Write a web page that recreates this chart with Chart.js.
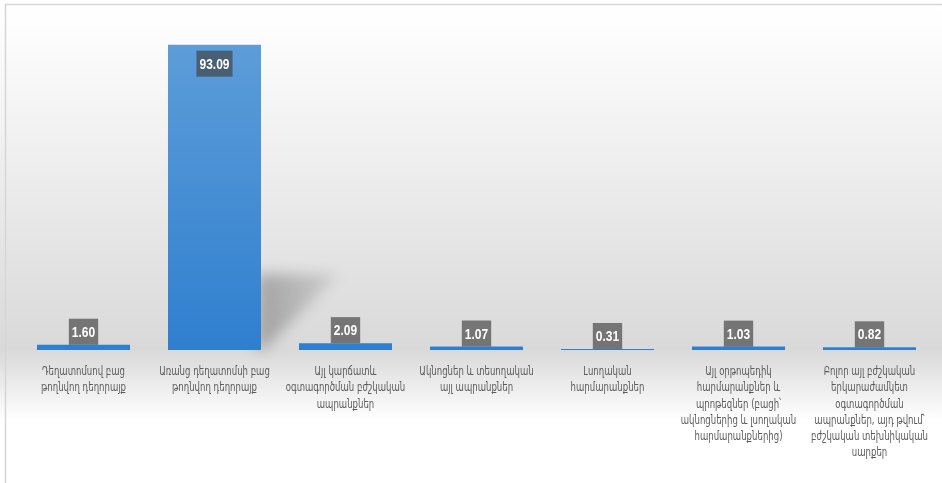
<!DOCTYPE html>
<html>
<head>
<meta charset="utf-8">
<script src="https://cdn.jsdelivr.net/npm/chart.js@4/dist/chart.umd.min.js"></script>
<style>
  html, body { margin: 0; padding: 0; background: #fff; }
  #wrap { position: relative; width: 942px; height: 483px; }
</style>
</head>
<body>
<div id="wrap"><canvas id="barChart"></canvas></div>
<script>
// categories (wrapped into lines) and values
var categories = [
	["Դեղատոմսով բաց", "թողնվող դեղորայք"],
	["Առանց դեղատոմսի բաց", "թողնվող դեղորայք"],
	["Այլ կարճատև", "օգտագործման բժշկական", "ապրանքներ"],
	["Ակնոցներ և տեսողական", "այլ ապրանքներ"],
	["Լսողական", "հարմարանքներ"],
	["Այլ օրթոպեդիկ", "հարմարանքներ և", "պրոթեզներ (բացի՝", "ակնոցներից և լսողական", "հարմարանքներից)"],
	["Բոլոր այլ բժշկական", "երկարաժամկետ", "օգտագործման", "ապրանքներ, այդ թվում՝", "բժշկական տեխնիկական", "սարքեր"]
];
var shares = [1.60, 93.09, 2.09, 1.07, 0.31, 1.03, 0.82];

var valueFont = 'bold 15px "Liberation Sans", Arial, sans-serif';
var labelFont = '12.5px "DejaVu Sans Condensed", "DejaVu Sans", sans-serif';

// draw text squeezed horizontally (narrow face look)
function narrowText(c, txt, x, y, sx) {
	c.save();
	c.translate(x, y);
	c.scale(sx, 1);
	c.fillText(txt, 0, 0);
	c.restore();
}

// soft grey backdrop + thin frame
var backdrop = {
	id: "backdrop",
	beforeDraw: function (chart) {
		var c = chart.ctx, w = chart.width, h = chart.height;
		var g = c.createLinearGradient(0, 0, 0, h);
		g.addColorStop(0, "#ffffff");
		g.addColorStop(0.06, "#fdfdfd");
		g.addColorStop(0.725, "#d9d9d9");
		g.addColorStop(0.87, "#ffffff");
		g.addColorStop(1, "#ffffff");
		c.save();
		c.fillStyle = g;
		c.fillRect(0, 0, w, h);
		c.strokeStyle = "#d6d6d6";
		c.lineWidth = 1.5;
		c.strokeRect(5.5, 4.5, w + 10, h + 10);
		c.restore();
	}
};

// cast shadow behind the tallest bar
var barShadow = {
	id: "barShadow",
	beforeDatasetsDraw: function (chart) {
		var idx = shares.indexOf(Math.max.apply(null, shares));
		var bar = chart.getDatasetMeta(0).data[idx];
		if (!bar) return;
		var right = bar.x + bar.width / 2;
		var base = bar.base;
		var c = chart.ctx;
		c.save();
		c.filter = "blur(7px)";
		var g = c.createLinearGradient(right, 0, right + 80, 0);
		g.addColorStop(0, "rgba(0,0,0,0.26)");
		g.addColorStop(1, "rgba(0,0,0,0.08)");
		c.fillStyle = g;
		c.beginPath();
		c.moveTo(right - 4, base - 76);
		c.lineTo(right + 78, base - 76);
		c.lineTo(right + 2, base);
		c.lineTo(right - 4, base);
		c.closePath();
		c.fill();
		c.restore();
	}
};

// value tags on each bar
var valueTags = {
	id: "valueTags",
	afterDatasetsDraw: function (chart) {
		var c = chart.ctx;
		var meta = chart.getDatasetMeta(0);
		var sx = 0.8;
		c.save();
		c.font = valueFont;
		c.textAlign = "center";
		c.textBaseline = "middle";
		meta.data.forEach(function (bar, i) {
			var txt = shares[i].toFixed(2);
			var bw = c.measureText(txt).width * sx + 6;
			var bh = 26;
			var top;
			if (bar.base - bar.y > bh + 12) {
				top = bar.y + 6;
			} else {
				top = bar.y - bh;
			}
			c.fillStyle = "rgba(64,64,64,0.66)";
			c.fillRect(bar.x - bw / 2, top, bw, bh);
			c.fillStyle = "#ffffff";
			narrowText(c, txt, bar.x, top + bh / 2 + 1, sx);
		});
		c.restore();
	}
};

// category names under the axis, centred on each tick
var categoryLabels = {
	id: "categoryLabels",
	afterDraw: function (chart) {
		var xs = chart.scales.x;
		var c = chart.ctx;
		var lh = 16.2;
		c.save();
		c.font = labelFont;
		c.fillStyle = "#5a5a5a";
		c.textAlign = "center";
		c.textBaseline = "middle";
		categories.forEach(function (lines, i) {
			var x = xs.getPixelForTick(i);
			lines.forEach(function (ln, j) {
				narrowText(c, ln, x, xs.top + 22 + j * lh, 0.76);
			});
		});
		c.restore();
	}
};

var ctx = document.getElementById("barChart");

var chart = new Chart(ctx, {
	type: "bar",
	data: {
		labels: categories,
		datasets: [{
			data: shares,
			backgroundColor: function (context) {
				var area = context.chart.chartArea;
				if (!area) return "#4a90d4";
				var g = context.chart.ctx.createLinearGradient(0, area.top, 0, area.bottom);
				g.addColorStop(0, "#609fd9");
				g.addColorStop(1, "#2f7fcf");
				return g;
			},
			borderWidth: 0,
			categoryPercentage: 0.71,
			barPercentage: 1
		}]
	},
	options: {
		responsive: true,
		maintainAspectRatio: false,
		animation: false,
		layout: {
			padding: { left: 18, right: 7, top: 22, bottom: 0 }
		},
		plugins: {
			legend: { display: false },
			tooltip: { enabled: false }
		},
		scales: {
			x: {
				grid: { display: false, drawTicks: false },
				border: { display: false },
				ticks: { display: false },
				afterFit: function (scale) {
					scale.height = 133;
				}
			},
			y: {
				display: false,
				min: 0,
				max: 100
			}
		}
	},
	plugins: [backdrop, barShadow, valueTags, categoryLabels]
});
</script>
</body>
</html>
